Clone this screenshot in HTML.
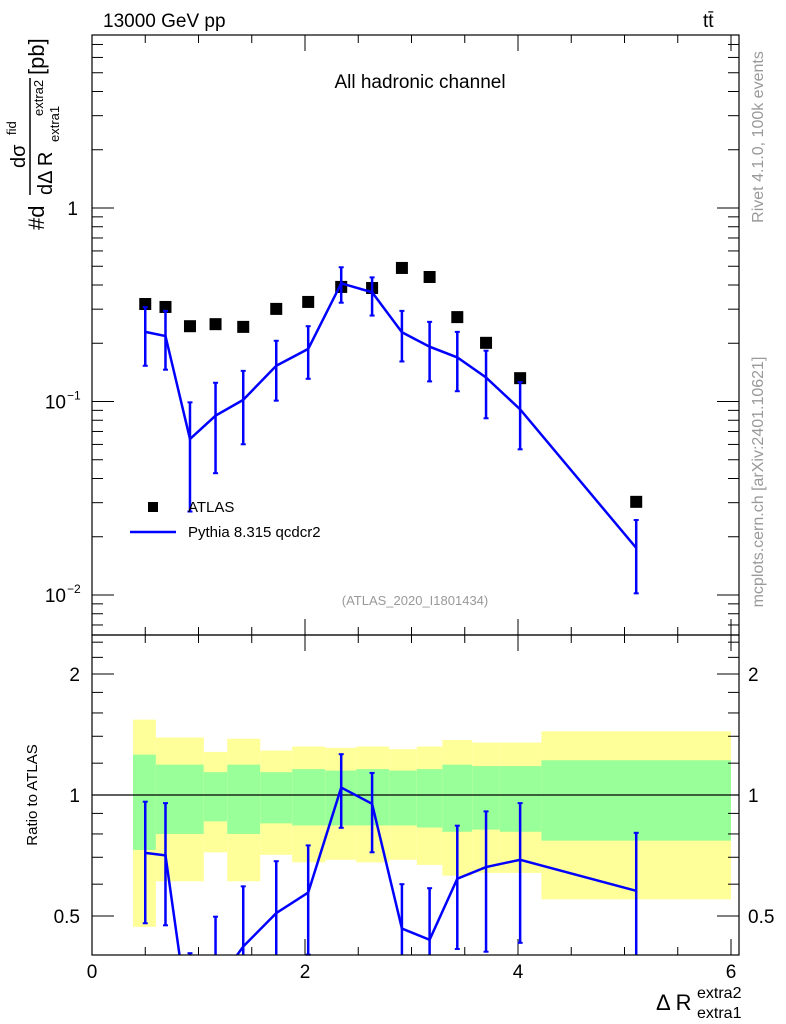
<!DOCTYPE html>
<html><head><meta charset="utf-8"><style>
html,body{margin:0;padding:0;background:#fff;}
svg{display:block;font-family:"Liberation Sans",sans-serif;}
</style></head><body>
<svg id="c" width="786" height="1024" viewBox="0 0 786 1024">
<g id="bands"></g><g id="ticks"></g><g id="marks"></g>
<rect x="92" y="35" width="647" height="600" fill="none" stroke="#000" stroke-width="1.2"/>
<rect x="92" y="635" width="647" height="320" fill="none" stroke="#000" stroke-width="1.2"/>
<text x="103" y="27" font-size="19">13000 GeV pp</text>
<text x="703" y="27" font-size="19">tt̄</text>
<text x="420" y="88" font-size="19" text-anchor="middle">All hadronic channel</text>
<text x="415" y="605" font-size="13" fill="#999" text-anchor="middle">(ATLAS_2020_I1801434)</text>
<text transform="translate(763,137) rotate(-90)" font-size="16" fill="#999" text-anchor="middle">Rivet 4.1.0,  100k events</text>
<text transform="translate(763,482) rotate(-90)" font-size="16" fill="#999" text-anchor="middle">mcplots.cern.ch [arXiv:2401.10621]</text>
<g transform="translate(32,230) rotate(-90)">
<text x="0" y="12" font-size="22">#d</text>
<text x="62" y="-7" font-size="20">dσ</text><text x="95" y="-16" font-size="13">fid</text>
<line x1="35" y1="-2" x2="152" y2="-2" stroke="#000" stroke-width="1.5"/>
<text x="35" y="20" font-size="20">dΔ R</text><text x="88" y="27" font-size="13">extra1</text><text x="114" y="11" font-size="13">extra2</text>
<text x="155" y="12" font-size="22">[pb]</text>
</g>
<text transform="translate(37,795) rotate(-90)" font-size="15" text-anchor="middle">Ratio to ATLAS</text>
<g>
<text x="656" y="1010" font-size="22">Δ R</text>
<text x="697" y="998" font-size="16">extra2</text>
<text x="697" y="1018" font-size="16">extra1</text>
</g>
<g>
<rect x="148" y="502" width="10" height="10" fill="#000"/>
<text x="188" y="512" font-size="15">ATLAS</text>
<line x1="130" y1="532" x2="176" y2="532" stroke="#00f" stroke-width="2.5"/>
<text x="188" y="537" font-size="15">Pythia 8.315 qcdcr2</text>
</g>
</svg>
<script>
const xPos=[0.50,0.69,0.92,1.16,1.42,1.73,2.03,2.34,2.63,2.91,3.17,3.43,3.70,4.02,5.11];
const atlas=[0.319,0.308,0.245,0.251,0.243,0.301,0.327,0.391,0.386,0.49,0.44,0.273,0.201,0.132,0.0303];
const pythia=[0.229,0.218,0.064,0.0845,0.102,0.153,0.187,0.408,0.367,0.228,0.192,0.169,0.133,0.0911,0.0175];
const pyHi=[0.307,0.294,0.099,0.125,0.144,0.206,0.245,0.494,0.438,0.294,0.258,0.229,0.183,0.126,0.0244];
const pyLo=[0.153,0.146,0.027,0.0426,0.0601,0.101,0.131,0.324,0.278,0.161,0.127,0.113,0.0819,0.0566,0.0102];
const bandEdges=[0.385,0.6,1.05,1.27,1.58,1.88,2.19,2.48,2.79,3.05,3.29,3.57,3.83,4.22,6.0];
const yelHi=[1.54,1.39,1.28,1.38,1.29,1.32,1.31,1.32,1.30,1.32,1.37,1.35,1.35,1.44];
const grnHi=[1.26,1.19,1.14,1.19,1.14,1.16,1.15,1.16,1.15,1.16,1.19,1.18,1.18,1.22];
const grnLo=[0.73,0.80,0.86,0.80,0.85,0.84,0.84,0.84,0.84,0.83,0.81,0.82,0.81,0.77];
const yelLo=[0.47,0.61,0.72,0.61,0.71,0.68,0.69,0.68,0.69,0.67,0.63,0.64,0.64,0.55];
const xTicks=[0,2,4,6];
const NS='http://www.w3.org/2000/svg';
const X=v=>92+v*106.5;
const Y=v=>208-193.5*Math.log10(v);
const R=v=>795-121*Math.log2(v);
const RT=635,RB=955;
const clampR=y=>Math.max(RT,Math.min(RB,y));
function mk(tag,attrs,parent){const e=document.createElementNS(NS,tag);for(const k in attrs)e.setAttribute(k,attrs[k]);document.getElementById(parent).appendChild(e);return e;}
for(let i=0;i<yelHi.length;i++){
 const x0=X(bandEdges[i]),w=X(bandEdges[i+1])-x0;
 let e=mk('rect',{x:x0,y:R(yelHi[i]),width:w,height:R(yelLo[i])-R(yelHi[i]),fill:'#ffff99'},'bands');
 
 
 e=mk('rect',{x:x0,y:R(grnHi[i]),width:w,height:R(grnLo[i])-R(grnHi[i]),fill:'#99ff99'},'bands');
 
 
}
let l=mk('line',{x1:92,x2:739,y1:R(1),y2:R(1),stroke:'#000','stroke-width':1.2},'bands');


for(let d=-3;d<=0;d++){for(let m=1;m<=9;m++){const v=m*Math.pow(10,d);const y=Y(v);if(y<35||y>635)continue;const len=m==1?22:11;
 mk('line',{x1:92,x2:92+len,y1:y,y2:y,stroke:'#000'},'ticks');mk('line',{x1:739,x2:739-len,y1:y,y2:y,stroke:'#000'},'ticks');}}
const yl=[[1,'1'],[0.1,'10'],[0.01,'10']];
yl.forEach(([v,t],i)=>{const e=mk('text',{x:i==0?78:66,y:Y(v)+7,'font-size':19,'text-anchor':'end'},'ticks');e.textContent=t;
 
 
 if(i>0){const s=mk('text',{x:67,y:Y(v)-2,'font-size':12},'ticks');s.textContent=i==1?'−1':'−2';}});
[0.5,0.6,0.7,0.8,0.9,1,1.2,1.4,1.6,1.8,2,2.2,2.4].forEach(v=>{const y=R(v);if(y<RT||y>RB)return;const len=(v==0.5||v==1||v==2)?22:11;
 mk('line',{x1:92,x2:92+len,y1:y,y2:y,stroke:'#000'},'ticks');mk('line',{x1:739,x2:739-len,y1:y,y2:y,stroke:'#000'},'ticks');});
[[2,'2'],[1,'1'],[0.5,'0.5']].forEach(([v,t])=>{let e=mk('text',{x:80,y:R(v)+7,'font-size':19,'text-anchor':'end'},'ticks');e.textContent=t;
 
 
 e=mk('text',{x:748,y:R(v)+7,'font-size':19},'ticks');e.textContent=t;});
for(let v=0;v<=6.01;v+=0.5){const x=X(v);const maj=Math.abs(v-Math.round(v/2)*2)<1e-6;const len=maj?16:8;
 [[955,955-len],[635,635-len],[635,635+len],[35,35+len]].forEach(([a,b])=>mk('line',{x1:x,x2:x,y1:a,y2:b,stroke:'#000'},'ticks'));}
xTicks.forEach(v=>{const e=mk('text',{x:X(v),y:978,'font-size':19,'text-anchor':'middle'},'ticks');e.textContent=v;
 
 });
atlas.forEach((v,i)=>{const e=mk('rect',{x:X(xPos[i])-6,y:Y(v)-6,width:12,height:12,fill:'#000'},'marks');
 
 });
let p=mk('polyline',{points:pythia.map((v,i)=>X(xPos[i])+','+Y(v)).join(' '),fill:'none',stroke:'#00f','stroke-width':2.5},'marks');


pythia.forEach((v,i)=>{const x=X(xPos[i]);const e=mk('line',{x1:x,x2:x,y1:Y(pyHi[i]),y2:Y(pyLo[i]),stroke:'#00f','stroke-width':2.5},'marks');
 
 
 [pyHi[i],pyLo[i]].forEach(u=>mk('line',{x1:x-2.5,x2:x+2.5,y1:Y(u),y2:Y(u),stroke:'#00f','stroke-width':2},'marks'));});
const cp=mk('clipPath',{id:'rc'},'marks');const cr=document.createElementNS(NS,'rect');cr.setAttribute('x',92);cr.setAttribute('y',RT);cr.setAttribute('width',647);cr.setAttribute('height',RB-RT);cp.appendChild(cr);
p=mk('polyline',{points:pythia.map((v,i)=>X(xPos[i])+','+R(v/atlas[i])).join(' '),fill:'none',stroke:'#00f','stroke-width':2.5,'clip-path':'url(#rc)'},'marks');


pythia.forEach((v,i)=>{const x=X(xPos[i]);const hi=R(pyHi[i]/atlas[i]),lo=R(pyLo[i]/atlas[i]);if(hi>RB)return;
 const e=mk('line',{x1:x,x2:x,y1:clampR(hi),y2:clampR(lo),stroke:'#00f','stroke-width':2.5},'marks');
 
 
 [hi,lo].forEach(u=>{if(u>=RT&&u<=RB)mk('line',{x1:x-2.5,x2:x+2.5,y1:u,y2:u,stroke:'#00f','stroke-width':2},'marks');});});
</script>
</body></html>
